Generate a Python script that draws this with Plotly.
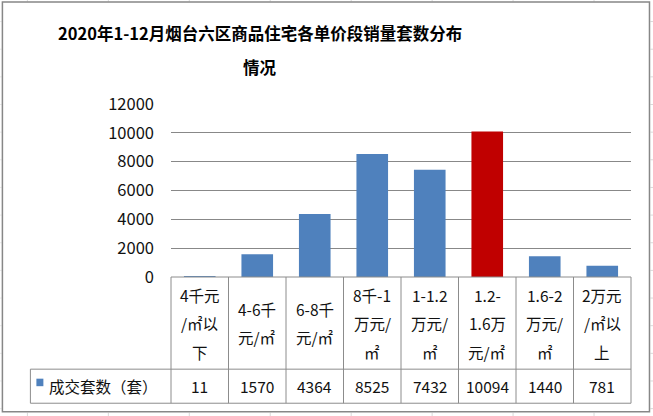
import plotly.graph_objects as go

# ---- data ----
categories = ["4千元/㎡以下", "4-6千元/㎡", "6-8千元/㎡", "8千-1万元/㎡",
              "1-1.2万元/㎡", "1.2-1.6万元/㎡", "1.6-2万元/㎡", "2万元/㎡以上"]
category_lines = [["4千元", "/㎡以", "下"], ["4-6千", "元/㎡"], ["6-8千", "元/㎡"],
                  ["8千-1", "万元/", "㎡"], ["1-1.2", "万元/", "㎡"],
                  ["1.2-", "1.6万", "元/㎡"], ["1.6-2", "万元/", "㎡"],
                  ["2万元", "/㎡以", "上"]]
values = [11, 1570, 4364, 8525, 7432, 10094, 1440, 781]
series_name = "成交套数（套）"
title_line1 = "2020年1-12月烟台六区商品住宅各单价段销量套数分布"
title_line2 = "情况"
y_ticks = [0, 2000, 4000, 6000, 8000, 10000, 12000]
y_tick_text = ["0", "2000", "4000", "6000", "8000", "10000", "12000"]
highlight = "1.2-1.6万元/㎡"

BLUE = "#4F81BD"
RED = "#C00000"
GRID = "#888888"
LINE = "#8C8C8C"
FONT = "Noto Sans CJK SC"
TXT = "#111111"

W, H = 653, 416
L, R, T, B = 170.7, 631.0, 104.3, 277.0

def px2x(px):
    return (px - L) / (R - L)

def py2y(py):
    return (B - py) / (B - T)

colors = [RED if c == highlight else BLUE for c in categories]

fig = go.Figure(go.Bar(x=categories, y=values, marker=dict(color=colors, line=dict(width=0)),
                       showlegend=False, hoverinfo="skip"))

shapes = []
annotations = []

# Excel sheet grid outside the chart
for gx in [27, 108, 189, 270, 351, 432, 513, 594]:
    for y0, y1 in [(0, 2), (412.5, 416)]:
        shapes.append(dict(type="line", xref="paper", yref="paper",
                           x0=px2x(gx), x1=px2x(gx), y0=py2y(y0), y1=py2y(y1),
                           line=dict(color="#D9D9D9", width=1)))
gy = 22
while gy < H:
    for x0, x1 in [(0, 1), (650.5, 653)]:
        shapes.append(dict(type="line", xref="paper", yref="paper",
                           x0=px2x(x0), x1=px2x(x1), y0=py2y(gy), y1=py2y(gy),
                           line=dict(color="#D9D9D9", width=1)))
    gy += 27.6

# chart border
shapes.append(dict(type="rect", xref="paper", yref="paper",
                   x0=px2x(2), x1=px2x(649.5), y0=py2y(2.5), y1=py2y(411.5),
                   line=dict(color="#878787", width=1.5)))

# data table
n = len(categories)
colw = (R - L) / n
row1, row2 = 369.0, 403.0
legend_left = 30.0
for k in range(n + 1):
    xp = L + k * colw
    shapes.append(dict(type="line", xref="paper", yref="paper",
                       x0=px2x(xp), x1=px2x(xp), y0=py2y(B), y1=py2y(row2),
                       line=dict(color=LINE, width=1)))
shapes.append(dict(type="line", xref="paper", yref="paper",
                   x0=px2x(legend_left), x1=px2x(legend_left), y0=py2y(row1), y1=py2y(row2),
                   line=dict(color=LINE, width=1)))
for yy, x0 in [(B, L), (row1, legend_left), (row2, legend_left)]:
    shapes.append(dict(type="line", xref="paper", yref="paper",
                       x0=px2x(x0), x1=px2x(R), y0=py2y(yy), y1=py2y(yy),
                       line=dict(color=LINE, width=1)))

# legend key
shapes.append(dict(type="rect", xref="paper", yref="paper",
                   x0=px2x(36), x1=px2x(43), y0=py2y(378.5), y1=py2y(386),
                   fillcolor=BLUE, line=dict(width=0)))
annotations.append(dict(text=series_name, xref="paper", yref="paper",
                        x=px2x(47), y=py2y(386), xanchor="left", yanchor="middle",
                        showarrow=False, font=dict(family=FONT, size=15.5, color=TXT)))

line_gap = 28.5
mid = (B + row1) / 2
for i, lines in enumerate(category_lines):
    cx = L + (i + 0.5) * colw
    m = len(lines)
    for j, t in enumerate(lines):
        cy = mid + (j - (m - 1) / 2) * line_gap
        annotations.append(dict(text=t, xref="paper", yref="paper", x=px2x(cx), y=py2y(cy),
                                xanchor="center", yanchor="middle", showarrow=False,
                                font=dict(family=FONT, size=15.5, color=TXT)))
    annotations.append(dict(text=str(values[i]), xref="paper", yref="paper",
                            x=px2x(cx), y=py2y((row1 + row2) / 2),
                            xanchor="center", yanchor="middle", showarrow=False,
                            font=dict(family=FONT, size=15.5, color=TXT)))

# title
for txt, cy in [(title_line1, 33), (title_line2, 67)]:
    annotations.append(dict(text="<b>" + txt + "</b>", xref="paper", yref="paper",
                            x=px2x(260), y=py2y(cy), xanchor="center", yanchor="middle",
                            showarrow=False, font=dict(family=FONT, size=16.5, color="#000000")))

fig.update_layout(
    width=W, height=H,
    margin=dict(l=L, r=W - R, t=T, b=H - B, pad=0),
    paper_bgcolor="white", plot_bgcolor="rgba(0,0,0,0)",
    bargap=0.45,
    xaxis=dict(showticklabels=False, showgrid=False, zeroline=False, showline=False,
               range=[-0.5, n - 0.5], fixedrange=True),
    yaxis=dict(range=[0, 12000], tickvals=y_ticks, ticktext=y_tick_text, showgrid=True,
               gridcolor=GRID, gridwidth=1,
               zeroline=False, showline=False, ticks="", ticklabelstandoff=16,
               tickfont=dict(family=FONT, size=16.5, color=TXT), fixedrange=True),
    shapes=shapes, annotations=annotations,
)

fig.write_html("out.html")
